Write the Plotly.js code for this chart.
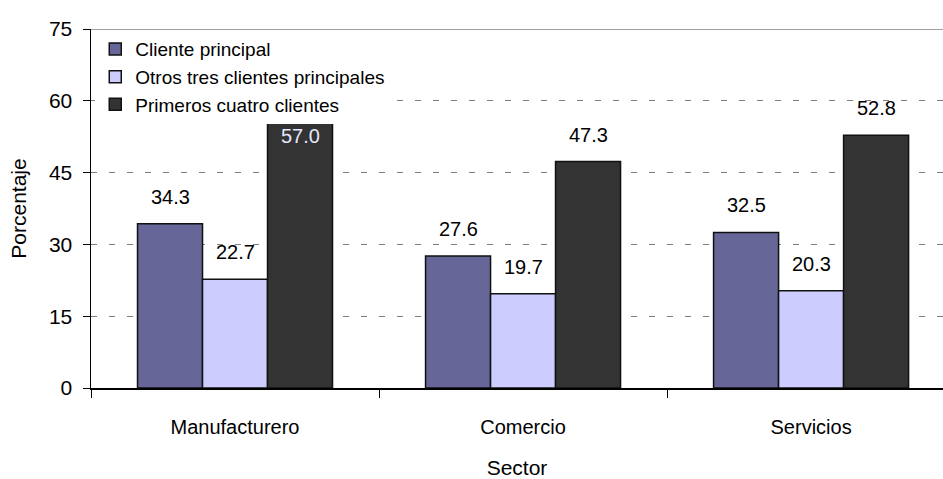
<!DOCTYPE html>
<html>
<head>
<meta charset="utf-8">
<script src="https://cdn.plot.ly/plotly-3.0.1.min.js"></script>
<style>
html,body{margin:0;padding:0;background:#fff;}
#chart{width:943px;height:479px;}
</style>
</head>
<body>
<div id="chart"></div>
<script>
const sectors = ["Manufacturero", "Comercio", "Servicios"];
const seriesNames = ["Cliente principal", "Otros tres clientes principales", "Primeros cuatro clientes"];
const clientePrincipal = [34.3, 27.6, 32.5];
const otrosTres = [22.7, 19.7, 20.3];
const primerosCuatro = [57.0, 47.3, 52.8];
const yTicks = [0, 15, 30, 45, 60, 75];

const seriesValues = [clientePrincipal, otrosTres, primerosCuatro];
const colors = ["#666699", "#ccccff", "#333333"];
const FONT = "Liberation Sans, Arial, sans-serif";

const traces = seriesValues.map((vals, i) => ({
  type: "bar",
  name: seriesNames[i],
  x: sectors,
  y: vals,
  marker: {color: colors[i], line: {color: "#111", width: 1.5}},
  hoverinfo: "skip"
}));

// value labels via annotations placed at each bar (group offset in pixels)
const barPx = 65;
const annotations = [];
seriesValues.forEach((vals, i) => {
  vals.forEach((v, j) => {
    const inside = (i === 2 && j === 0); // label partly hidden by legend in the original -> shown inside bar
    annotations.push({
      x: sectors[j], y: v, xref: "x", yref: "y",
      xshift: (i - 1) * barPx,
      yshift: inside ? -8 : 14,
      yanchor: inside ? "top" : "bottom",
      text: v.toFixed(1),
      showarrow: false,
      font: {family: FONT, size: 20, color: inside ? "#e6e6ff" : "#000"}
    });
  });
});

const layout = {
  width: 943, height: 479,
  margin: {l: 91, r: 0, t: 29, b: 91},
  paper_bgcolor: "#fff", plot_bgcolor: "#fff",
  font: {family: FONT, size: 20, color: "#000"},
  barmode: "group",
  bargap: 0.323,
  bargroupgap: 0,
  showlegend: true,
  legend: {
    x: 0.005, y: 0.997, xanchor: "left", yanchor: "top",
    bgcolor: "#fff", borderwidth: 0,
    font: {family: FONT, size: 19, color: "#000"},
    traceorder: "normal",
    itemwidth: 30
  },
  xaxis: {
    range: [-0.5, 2.458],
    tickson: "boundaries",
    ticks: "outside", ticklen: 8, tickcolor: "#000", tickwidth: 1,
    showline: true, linecolor: "#000", linewidth: 1.5,
    showgrid: false, zeroline: false,
    tickfont: {family: FONT, size: 20, color: "#000"},
    ticklabelstandoff: 20,
    title: {text: "Sector", font: {family: FONT, size: 21, color: "#000"}, standoff: 24}
  },
  yaxis: {
    range: [0, 75],
    tickvals: yTicks,
    ticktext: yTicks.map(String),
    ticks: "outside", ticklen: 7, tickcolor: "#000", tickwidth: 1,
    showline: true, linecolor: "#000", linewidth: 1.5,
    showgrid: true, gridcolor: "#808080", gridwidth: 1, griddash: "6px,12px",
    zeroline: false,
    tickfont: {family: FONT, size: 21, color: "#000"},
    ticklabelstandoff: 6,
    title: {text: "Porcentaje", font: {family: FONT, size: 21, color: "#000"}, standoff: 16}
  },
  shapes: [{
    type: "line", xref: "paper", yref: "y", x0: 0, x1: 1, y0: 75, y1: 75,
    line: {color: "#808080", width: 1.5}, layer: "above"
  }],
  annotations: annotations
};

Plotly.newPlot("chart", traces, layout, {displayModeBar: false, staticPlot: true});
</script>
</body>
</html>
